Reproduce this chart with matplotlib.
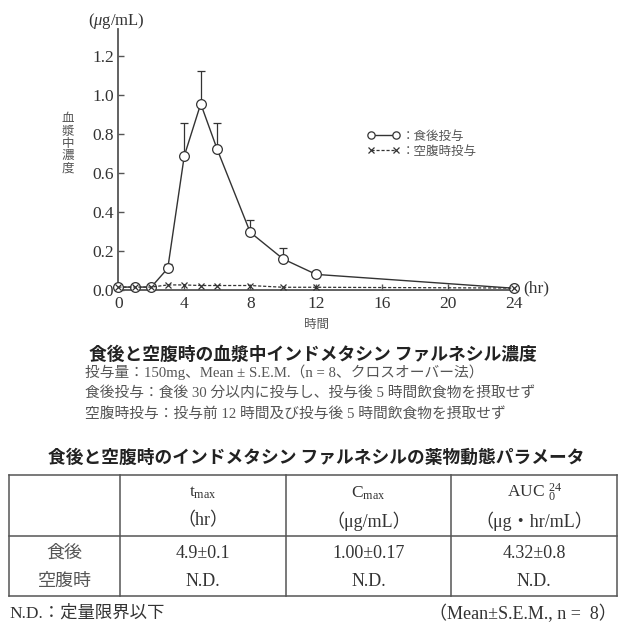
import numpy as np
import matplotlib
matplotlib.use('Agg')
import matplotlib.pyplot as plt

plt.rcParams['font.family'] = ['Liberation Serif', 'Noto Sans CJK JP']
plt.rcParams['mathtext.fontset'] = 'custom'
plt.rcParams['mathtext.rm'] = 'Liberation Serif'
plt.rcParams['mathtext.it'] = 'Liberation Serif:italic'

# data
hours = [0, 1, 2, 3, 4, 5, 6, 8, 10, 12, 24]
fed_mean = [0.015, 0.015, 0.015, 0.111, 0.687, 0.955, 0.721, 0.296, 0.159, 0.080, 0.009]
fed_sem = [0, 0, 0, 0.021, 0.171, 0.170, 0.137, 0.063, 0.058, 0.019, 0]
fast_mean = [0.015, 0.015, 0.015, 0.026, 0.026, 0.023, 0.023, 0.023, 0.014, 0.014, 0.010]

series_labels = ['：食後投与', '：空腹時投与']

caption_title = '食後と空腹時の血漿中インドメタシン ファルネシル濃度'
caption_lines = [
    '投与量：150mg、Mean ± S.E.M.（n = 8、クロスオーバー法）',
    '食後投与：食後 30 分以内に投与し、投与後 5 時間飲食物を摂取せず',
    '空腹時投与：投与前 12 時間及び投与後 5 時間飲食物を摂取せず',
]

table_title = '食後と空腹時のインドメタシン ファルネシルの薬物動態パラメータ'
param_names = [r'$\mathrm{t}_{\mathrm{max}}$', r'$\mathrm{C}_{\mathrm{max}}$', r'$\mathrm{AUC}\ {}_{0}^{24}$']
param_units = ['（hr）', '（μg/mL）', '（μg・hr/mL）']
row_names = ['食後', '空腹時']
fed_values = ['4.9±0.1', '1.00±0.17', '4.32±0.8']
fast_values = ['N.D.', 'N.D.', 'N.D.']
note_left = 'N.D.：定量限界以下'
note_right = '（Mean±S.E.M., n =  8）'

ink = '#333333'
grey = '#555555'

W, H = 627, 638
fig = plt.figure(figsize=(W / 100, H / 100), dpi=100)

# chart axes (pixel box 118..514 x 29..290)
ax = fig.add_axes([118.3 / W, 1 - 290 / H, (514 - 118.3) / W, (290 - 29.3) / H])
ax.errorbar(hours, fed_mean, yerr=[np.zeros(len(fed_sem)), fed_sem], fmt='none',
            ecolor=ink, elinewidth=0.9, capsize=3, capthick=0.9, clip_on=False, zorder=2)
l_fed, = ax.plot(hours, fed_mean, '-', color=ink, lw=1.0, marker='o', ms=7,
                 mfc='white', mec=ink, mew=0.9, clip_on=False, zorder=3)
l_fast, = ax.plot(hours, fast_mean, color=ink, lw=0.9, ls=(0, (2.5, 1.5)), marker='x',
                  ms=5, mec=ink, mew=0.9, clip_on=False, zorder=3)

ax.set_xlim(0, 24)
ax.set_ylim(0, 1.337)
ax.set_xticks([0, 4, 8, 12, 16, 20, 24])
ax.set_yticks([0.0, 0.2, 0.4, 0.6, 0.8, 1.0, 1.2])
ax.set_yticklabels([f'{v:.1f}' for v in [0.0, 0.2, 0.4, 0.6, 0.8, 1.0, 1.2]])
for s in ['top', 'right']:
    ax.spines[s].set_visible(False)
for s in ['left', 'bottom']:
    ax.spines[s].set_color(grey)
    ax.spines[s].set_linewidth(1.3)
ax.tick_params(direction='in', length=4, width=1, color=grey, labelsize=12.5,
               labelcolor=ink, pad=3)
ax.tick_params(axis='x', pad=4)
ax.set_xlabel('時間', fontsize=9, color=grey, labelpad=5)

ax.legend([l_fed, l_fast], series_labels, loc='upper left', bbox_to_anchor=(0.6, 0.655),
          frameon=False, numpoints=2, handlelength=2.6, handletextpad=0.2,
          labelspacing=0.25, prop={'size': 9}, labelcolor=grey, markerscale=0.75)

# overlay in pixel coordinates for free text and the table
ov = fig.add_axes([0, 0, 1, 1])
ov.set_xlim(0, W)
ov.set_ylim(H, 0)
ov.axis('off')

ov.text(116, 21, r'($\mu$g/mL)', ha='center', va='center', fontsize=12, color=ink)
ov.text(523, 288, '(hr)', ha='left', va='center', fontsize=12.5, color=ink)
ov.text(68, 144, '\n'.join('血漿中濃度'), ha='center', va='center', fontsize=9,
        color=grey, linespacing=1.05)

ov.text(313, 355, caption_title, ha='center', va='center', fontsize=12.8,
        fontweight='bold', color='#222222', family=['Noto Sans CJK JP'])
for i, line in enumerate(caption_lines):
    ov.text(85, 372 + 21 * i, line, ha='left', va='center', fontsize=10.6, color=grey)

ov.text(316, 458, table_title, ha='center', va='center', fontsize=12.75,
        fontweight='bold', color='#222222', family=['Noto Sans CJK JP'])

# table grid
col_x = [9, 120, 286, 451, 617]
row_y = [475, 536, 596]
for y in row_y:
    ov.plot([col_x[0], col_x[-1]], [y, y], color=grey, lw=1.1)
for x in col_x:
    ov.plot([x, x], [row_y[0], row_y[-1]], color=grey, lw=1.1)

for j in range(3):
    cx = (col_x[j + 1] + col_x[j + 2]) / 2
    ov.text(cx, 493, param_names[j], ha='center', va='center', fontsize=12.5, color=ink)
    ov.text(cx, 521, param_units[j], ha='center', va='center', fontsize=13, color=ink)
    ov.text(cx, 553, fed_values[j], ha='center', va='center', fontsize=13, color=ink)
    ov.text(cx, 581, fast_values[j], ha='center', va='center', fontsize=13, color=ink)
cx0 = (col_x[0] + col_x[1]) / 2
ov.text(cx0, 553, row_names[0], ha='center', va='center', fontsize=13, color=grey)
ov.text(cx0, 581, row_names[1], ha='center', va='center', fontsize=13, color=grey)

ov.text(9, 614, note_left, ha='left', va='center', fontsize=12.5, color=ink)
ov.text(617, 614, note_right, ha='right', va='center', fontsize=13, color=ink)

fig.savefig('out.png', dpi=100, facecolor='white')
